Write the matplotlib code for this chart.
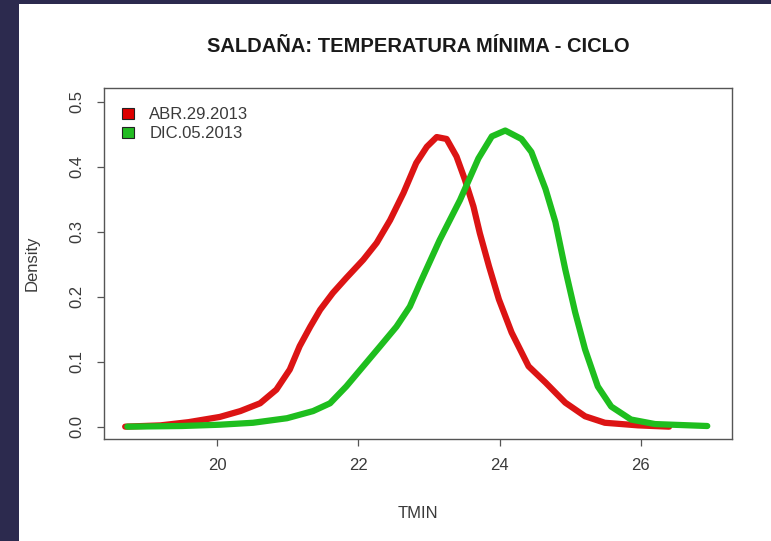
import matplotlib
matplotlib.use("Agg")
import matplotlib.pyplot as plt
from matplotlib.patches import Patch, Rectangle

# ---- data ----
abr_x = [18.70, 19.20, 19.60, 20.04, 20.33, 20.61, 20.84, 21.03, 21.17, 21.32,
         21.46, 21.64, 21.83, 22.07, 22.26, 22.45, 22.64, 22.82, 22.97, 23.11,
         23.25, 23.39, 23.51, 23.63, 23.72, 23.85, 23.99, 24.17, 24.41, 24.65,
         24.93, 25.21, 25.49, 25.96, 26.40]
abr_y = [0.000, 0.002, 0.007, 0.015, 0.024, 0.036, 0.057, 0.088, 0.124, 0.154,
         0.180, 0.206, 0.229, 0.257, 0.283, 0.318, 0.360, 0.406, 0.431, 0.446,
         0.443, 0.416, 0.380, 0.339, 0.298, 0.247, 0.196, 0.145, 0.093, 0.068,
         0.037, 0.016, 0.006, 0.002, 0.000]

dic_x = [18.73, 19.50, 20.04, 20.51, 20.99, 21.36, 21.60, 21.83, 22.07, 22.31,
         22.54, 22.73, 22.87, 23.15, 23.44, 23.70, 23.89, 24.08, 24.31, 24.45,
         24.65, 24.79, 24.93, 25.07, 25.21, 25.39, 25.58, 25.86, 26.20, 26.94]
dic_y = [0.000, 0.001, 0.003, 0.006, 0.013, 0.024, 0.036, 0.062, 0.093, 0.124,
         0.154, 0.185, 0.220, 0.287, 0.349, 0.413, 0.447, 0.456, 0.443, 0.423,
         0.366, 0.315, 0.242, 0.176, 0.119, 0.062, 0.031, 0.011, 0.004, 0.001]

series_labels = ["ABR.29.2013", "DIC.05.2013"]
x_ticks = [20, 22, 24, 26]
y_ticks = [0.0, 0.1, 0.2, 0.3, 0.4, 0.5]
y_tick_labels = ["0.0", "0.1", "0.2", "0.3", "0.4", "0.5"]
title = "SALDAÑA: TEMPERATURA MÍNIMA - CICLO"
x_label = "TMIN"
y_label = "Density"

# ---- styling ----
plt.rcParams['font.family'] = ['Liberation Sans', 'DejaVu Sans']
W, H = 771, 541
fig = plt.figure(figsize=(W / 100, H / 100), dpi=100)
fig.patch.set_facecolor('#2C2A4E')
bg = Rectangle((19 / W, 0), 1 - 19 / W, 1 - 4 / H,
               transform=fig.transFigure, facecolor='white',
               edgecolor='none', zorder=-10)
fig.add_artist(bg)

ax = fig.add_axes([104 / W, 1 - 439 / H, 628 / W, 351 / H])
ax.set_zorder(5)
ax.set_facecolor('white')

red = '#DC1414'
green = '#1EBE1E'
lw = 4.5
ax.plot(abr_x, abr_y, color=red, lw=lw, solid_joinstyle='round', solid_capstyle='round')
ax.plot(dic_x, dic_y, color=green, lw=lw, solid_joinstyle='round', solid_capstyle='round')

ax.set_xlim(18.40, 27.29)
ax.set_ylim(-0.019, 0.5215)

txt_col = '#3a3a3a'
ax.set_xticks(x_ticks)
ax.set_xticklabels([str(t) for t in x_ticks])
ax.set_yticks(y_ticks)
ax.set_yticklabels(y_tick_labels, rotation=90, va='center')
ax.tick_params(axis='both', direction='out', length=5, width=0.9, color='#555555',
               labelsize=12, labelcolor=txt_col, pad=9)
for s in ax.spines.values():
    s.set_color('#555555')
    s.set_linewidth(1.0)

fig.text(418 / W, 1 - 47 / H, title, ha='center', va='center',
         fontsize=14.5, fontweight='bold', color='#1a1a1a', zorder=6)
fig.text(418 / W, 1 - 514 / H, x_label, ha='center', va='center',
         fontsize=12, color=txt_col, zorder=6)
fig.text(32 / W, 1 - 263 / H, y_label, ha='center', va='center',
         fontsize=12, color=txt_col, rotation=90, zorder=6)

handles = [Patch(facecolor='#DD0000', edgecolor='#222222', linewidth=0.8),
           Patch(facecolor='#22BB22', edgecolor='#222222', linewidth=0.8)]
leg = ax.legend(handles, series_labels, loc='upper left',
                bbox_to_anchor=(0.029, 0.945), frameon=False,
                handlelength=0.7, handleheight=0.7, handletextpad=0.92,
                labelspacing=0.25, borderaxespad=0, borderpad=0, fontsize=12)
for t in leg.get_texts():
    t.set_color(txt_col)

fig.savefig('out.png', dpi=100, facecolor=fig.get_facecolor())
